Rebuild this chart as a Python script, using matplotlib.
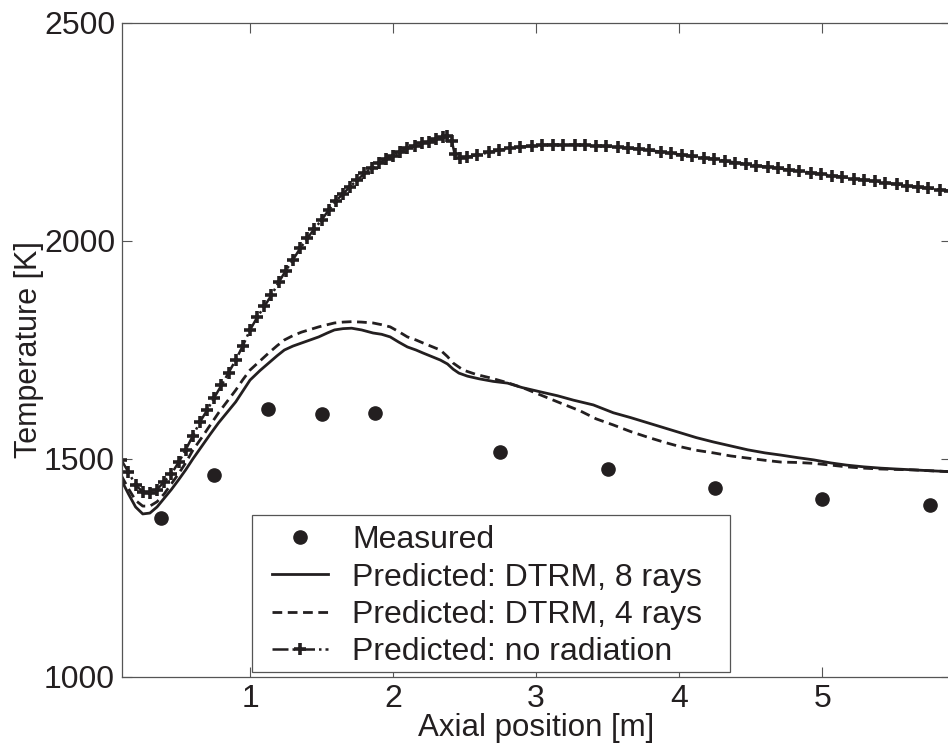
import numpy as np
import matplotlib
matplotlib.use("Agg")
import matplotlib.pyplot as plt
from matplotlib.patches import Rectangle

plt.rcParams['font.family'] = ['Liberation Sans', 'DejaVu Sans']

# measured temperatures
meas_x = [0.375, 0.75, 1.125, 1.5, 1.875, 2.75, 3.5, 4.25, 5.0, 5.75]
meas_t = [1365, 1463, 1615, 1603, 1606, 1516, 1477, 1433, 1408, 1394]

# DTRM, 8 rays
r8_x = [0.10, 0.15, 0.20, 0.25, 0.30, 0.35, 0.40, 0.45, 0.50, 0.55, 0.60, 0.66,
        0.72, 0.78, 0.84, 0.90, 0.95, 1.00, 1.07, 1.13, 1.19, 1.24, 1.30, 1.36,
        1.42, 1.48, 1.54, 1.59, 1.65, 1.71, 1.78, 1.86, 1.92, 1.98, 2.04, 2.10,
        2.16, 2.21, 2.27, 2.33, 2.38, 2.42, 2.46, 2.52, 2.60, 2.70, 2.80, 2.90,
        3.03, 3.15, 3.26, 3.40, 3.54, 3.66, 3.78, 3.90, 4.01, 4.12, 4.24, 4.36,
        4.48, 4.60, 4.71, 4.83, 4.94, 5.06, 5.17, 5.29, 5.41, 5.52, 5.64, 5.76, 5.89]
r8_t = [1452, 1420, 1390, 1374, 1376, 1390, 1410, 1430, 1452, 1475, 1500, 1528,
        1556, 1583, 1607, 1631, 1656, 1681, 1703, 1720, 1737, 1750, 1759, 1766,
        1773, 1780, 1789, 1796, 1799, 1800, 1796, 1789, 1786, 1780, 1768, 1757,
        1750, 1743, 1735, 1727, 1718, 1706, 1697, 1690, 1684, 1678, 1674, 1664,
        1654, 1645, 1635, 1624, 1606, 1595, 1583, 1571, 1560, 1549, 1539, 1530,
        1521, 1514, 1509, 1503, 1498, 1491, 1486, 1482, 1479, 1477, 1475, 1473, 1471]

# DTRM, 4 rays
r4_x = [0.10, 0.15, 0.20, 0.25, 0.30, 0.35, 0.40, 0.45, 0.50, 0.55, 0.60, 0.66,
        0.72, 0.78, 0.84, 0.90, 0.95, 1.00, 1.07, 1.13, 1.19, 1.24, 1.30, 1.36,
        1.42, 1.48, 1.54, 1.59, 1.65, 1.71, 1.78, 1.86, 1.92, 1.98, 2.04, 2.10,
        2.16, 2.21, 2.27, 2.33, 2.38, 2.42, 2.49, 2.58, 2.68, 2.80, 2.91, 3.03,
        3.15, 3.31, 3.42, 3.54, 3.66, 3.78, 3.90, 4.01, 4.12, 4.24, 4.36, 4.48,
        4.60, 4.71, 4.83, 4.94, 5.06, 5.17, 5.29, 5.41, 5.52, 5.64, 5.76, 5.89]
r4_t = [1462, 1432, 1405, 1392, 1392, 1402, 1420, 1443, 1466, 1491, 1520, 1548,
        1577, 1606, 1632, 1658, 1682, 1704, 1725, 1743, 1760, 1773, 1783, 1791,
        1797, 1803, 1808, 1812, 1814, 1815, 1814, 1812, 1808, 1803, 1792, 1780,
        1773, 1766, 1758, 1750, 1735, 1720, 1704, 1694, 1686, 1675, 1663, 1647,
        1631, 1610, 1592, 1578, 1563, 1550, 1538, 1528, 1520, 1514, 1507, 1502,
        1497, 1493, 1492, 1490, 1486, 1482, 1479, 1477, 1476, 1475, 1473, 1471]

# no radiation
nr_x = [0.10, 0.15, 0.20, 0.25, 0.30, 0.35, 0.40, 0.45, 0.50, 0.55, 0.60, 0.65,
        0.70, 0.75, 0.80, 0.85, 0.90, 0.95, 1.00, 1.05, 1.10, 1.15, 1.20, 1.25,
        1.30, 1.35, 1.40, 1.45, 1.50, 1.55, 1.60, 1.65, 1.70, 1.75, 1.80, 1.85,
        1.90, 1.95, 2.00, 2.05, 2.10, 2.15, 2.20, 2.25, 2.30, 2.35, 2.38, 2.41,
        2.43, 2.47, 2.52, 2.59, 2.67, 2.74, 2.82, 2.89, 2.97, 3.04, 3.12, 3.19,
        3.27, 3.34, 3.42, 3.49, 3.57, 3.64, 3.72, 3.79, 3.87, 3.94, 4.02, 4.09,
        4.17, 4.24, 4.32, 4.39, 4.47, 4.54, 4.62, 4.69, 4.77, 4.84, 4.92, 4.99,
        5.07, 5.14, 5.22, 5.29, 5.37, 5.44, 5.52, 5.59, 5.67, 5.74, 5.82, 5.89]
nr_t = [1498, 1470, 1440, 1425, 1422, 1430, 1448, 1466, 1492, 1521, 1553, 1585,
        1612, 1641, 1669, 1698, 1727, 1760, 1796, 1825, 1850, 1876, 1905, 1932,
        1957, 1983, 2006, 2028, 2048, 2071, 2092, 2108, 2125, 2140, 2155, 2167,
        2178, 2188, 2196, 2205, 2213, 2219, 2224, 2228, 2233, 2238, 2240, 2230,
        2200, 2190, 2192, 2198, 2203, 2208, 2213, 2216, 2218, 2220, 2221, 2221,
        2221, 2220, 2219, 2217, 2215, 2213, 2211, 2208, 2205, 2201, 2198, 2194,
        2191, 2188, 2184, 2180, 2177, 2173, 2170, 2167, 2163, 2160, 2157, 2153,
        2150, 2147, 2143, 2140, 2137, 2134, 2130, 2127, 2124, 2121, 2118, 2115]

ink = '#231f20'
grey = '#555555'
fs = 23

fig = plt.figure(figsize=(9.48, 7.55), dpi=100)
ax = fig.add_axes([122 / 948, 78 / 755, 829 / 948, 654 / 755])

ax.plot(meas_x, meas_t, 'o', color=ink, markersize=9.5, label='Measured')
ax.plot(r8_x, r8_t, '-', color=ink, linewidth=2.0, label='Predicted: DTRM, 8 rays')
ax.plot(r4_x, r4_t, '--', color=ink, linewidth=2.0, dashes=(3.5, 2),
        label='Predicted: DTRM, 4 rays')
ax.plot(nr_x, nr_t, '-.', color=ink, linewidth=1.8, marker='+', markersize=9,
        markeredgewidth=2.6, label='Predicted: no radiation')

ax.set_xlim(0.105, 5.9)
ax.set_ylim(1000, 2500)
ax.set_xticks([1, 2, 3, 4, 5])
ax.set_yticks([1000, 1500, 2000, 2500])
ax.tick_params(direction='in', length=7, width=0.8, top=True, right=True,
               labelsize=fs, colors=grey, labelcolor=ink, pad=5)
for s in ax.spines.values():
    s.set_color(grey)
    s.set_linewidth(0.9)

ax.set_xlabel('Axial position [m]', fontsize=22.5, color=ink, labelpad=-1)
ax.set_ylabel('Temperature [K]', fontsize=22, color=ink, labelpad=0)

# legend box drawn separately (wider side padding than top/bottom)
box = Rectangle((0.157, 0.008), 0.577, 0.240, transform=ax.transAxes,
                facecolor='white', edgecolor=grey, linewidth=0.9, zorder=4)
ax.add_patch(box)
leg = ax.legend(loc='upper left', bbox_to_anchor=(0.181, 0.232), fontsize=fs,
                numpoints=1, handlelength=1.75, handletextpad=0.75,
                labelspacing=0.23, borderpad=0, borderaxespad=0,
                frameon=False)
leg.set_zorder(5)
for t in leg.get_texts():
    t.set_color(ink)

fig.savefig('out.png', dpi=100)
